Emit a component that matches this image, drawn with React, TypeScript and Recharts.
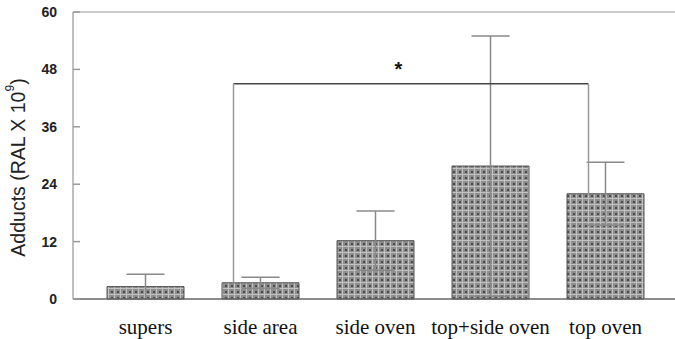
import React from 'react';
import {
  BarChart,
  Bar,
  XAxis,
  YAxis,
  ErrorBar,
  ReferenceLine,
  ReferenceDot,
} from 'recharts';

const categories = ['supers', 'side area', 'side oven', 'top+side oven', 'top oven'];
const means = [2.6, 3.4, 12.2, 27.8, 22.0];
const errors = [2.6, 1.15, 6.2, 27.2, 6.6];
const yTicks = [0, 12, 24, 36, 48, 60];

// significance bracket between side area and top oven
const bracketFrom = 'side area';
const bracketTo = 'top oven';
const bracketLevel = 45;
const starLevel = 49;

const data = categories.map((name, i) => ({ name, value: means[i], err: errors[i] }));

const YTick = ({ x, y, payload }: any) => (
  <g>
    <text
      x={x}
      y={y}
      dy={5}
      textAnchor="end"
      fontFamily="Liberation Sans, Arial, sans-serif"
      fontWeight="bold"
      fontSize={14}
      fill="#222"
    >
      {payload.value}
    </text>
    <line x1={x + 16} x2={x + 23} y1={y} y2={y} stroke="#999" strokeWidth={1.5} />
  </g>
);

const renderYLabel = (props: any) => {
  const vb = props.viewBox || { x: 0, y: 12, width: 73, height: 287 };
  const cx = vb.x + 18;
  const cy = vb.y + vb.height / 2 + 12;
  return (
    <text
      x={cx}
      y={cy}
      transform={`rotate(-90, ${cx}, ${cy})`}
      textAnchor="middle"
      dominantBaseline="central"
      fontFamily="Liberation Sans, Arial, sans-serif"
      fontSize={19.5}
      fill="#222"
    >
      Adducts (RAL X 10
      <tspan fontSize={12} dy={-8}>9</tspan>
      <tspan dy={8}>)</tspan>
    </text>
  );
};

// bracket segments are shifted a little left of the bar centres, as in the figure
const shiftedLine = (dx1: number, dx2: number, stroke: string) => (p: any) => (
  <line x1={p.x1 + dx1} y1={p.y1} x2={p.x2 + dx2} y2={p.y2} stroke={stroke} strokeWidth={1.5} />
);

export default function App() {
  return (
    <div style={{ position: 'absolute', left: 0, top: 0, background: '#fff' }}>
      <BarChart
        width={675}
        height={339}
        data={data}
        margin={{ top: 12, right: 0, bottom: 0, left: 0 }}
      >
        <defs>
          <pattern id="hatch" width="6" height="6" patternUnits="userSpaceOnUse">
            <rect width="6" height="6" fill="#8e8e8e" />
            <line x1="0" y1="0.5" x2="6" y2="0.5" stroke="#c2c2c2" strokeWidth="1" />
            <line x1="0.5" y1="0" x2="0.5" y2="6" stroke="#c2c2c2" strokeWidth="1" />
            <rect x="3" y="3" width="2" height="2" fill="#4a4a4a" />
          </pattern>
        </defs>
        <ReferenceLine y={60} stroke="#bbb" strokeWidth={1.5} />
        <XAxis
          dataKey="name"
          height={40}
          padding={{ left: 15, right: 12 }}
          tickLine={false}
          tickSize={0}
          tickMargin={20}
          axisLine={{ stroke: '#666', strokeWidth: 1.5 }}
          tick={{ fontFamily: 'Liberation Serif, Times New Roman, serif', fontSize: 21, fill: '#111' }}
          interval={0}
        />
        <YAxis
          width={73}
          domain={[0, 60]}
          ticks={yTicks}
          tickLine={false}
          tickSize={0}
          tickMargin={16}
          axisLine={{ stroke: '#aaa', strokeWidth: 1.5 }}
          tick={<YTick />}
          label={renderYLabel}
        />
        <Bar
          dataKey="value"
          barSize={77}
          fill="url(#hatch)"
          stroke="#555"
          strokeWidth={1}
          isAnimationActive={false}
        >
          <ErrorBar dataKey="err" width={19} stroke="#888" strokeWidth={1.5} direction="y" />
        </Bar>
        <ReferenceLine
          segment={[
            { x: bracketFrom, y: bracketLevel },
            { x: bracketTo, y: bracketLevel },
          ]}
          shape={shiftedLine(-27, -17, '#444')}
        />
        <ReferenceLine
          segment={[
            { x: bracketFrom, y: means[categories.indexOf(bracketFrom)] },
            { x: bracketFrom, y: bracketLevel },
          ]}
          shape={shiftedLine(-27, -27, '#999')}
        />
        <ReferenceLine
          segment={[
            { x: bracketTo, y: means[categories.indexOf(bracketTo)] },
            { x: bracketTo, y: bracketLevel },
          ]}
          shape={shiftedLine(-17, -17, '#999')}
        />
        <ReferenceDot
          x="side oven"
          y={starLevel}
          r={0}
          shape={(p: any) => (
            <text
              x={p.cx + 23}
              y={p.cy + 11}
              textAnchor="middle"
              fontFamily="Liberation Sans, Arial, sans-serif"
              fontWeight="bold"
              fontSize={20}
              fill="#111"
            >
              *
            </text>
          )}
        />
      </BarChart>
    </div>
  );
}
